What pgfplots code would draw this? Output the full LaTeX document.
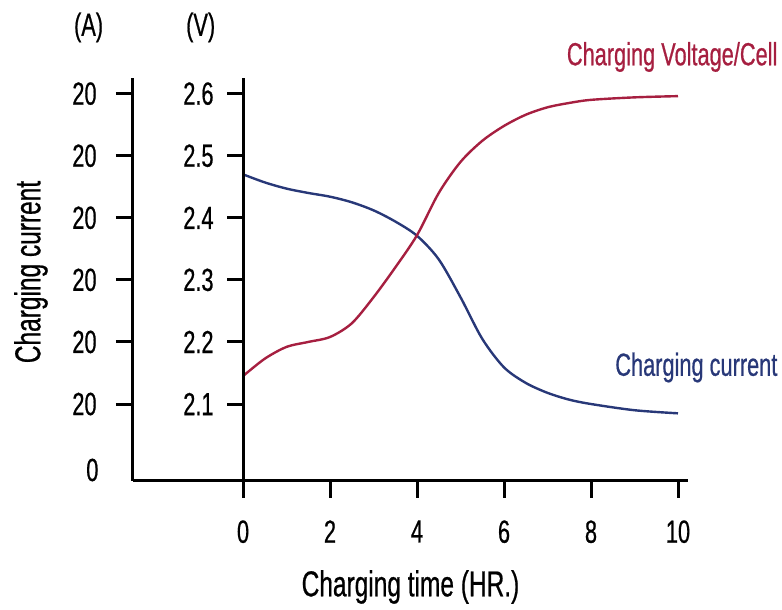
\documentclass[border=0pt]{standalone}
\usepackage{fontspec}
\setmainfont[FakeStretch=0.68,FakeBold=0.6]{Liberation Sans}
\usepackage{pgfplots}
\pgfplotsset{compat=1.18}
\definecolor{voltred}{RGB}{166,31,64}
\definecolor{currblue}{RGB}{40,56,120}

\begin{document}
\begin{tikzpicture}
\useasboundingbox (-66.5pt,-64.5pt) rectangle (324.5pt,240.5pt);
\begin{axis}[
  scale only axis, width=277.5pt, height=201.75pt,
  xmin=-2.53, xmax=10.23, ymin=1.976, ymax=2.626,
  axis x line=bottom, axis y line=left,
  axis line style={line width=1.5pt,-},
  tick style={line width=1.5pt,black},
  tick align=outside, major tick length=8.5pt,
  xtick={0,2,4,6,8,10},
  ytick={2.1,2.2,2.3,2.4,2.5,2.6},
  yticklabels={20,20,20,20,20,20},
  /pgf/number format/assume math mode=true,
  tick label style={font=\fontsize{16}{19}\selectfont},
  xticklabel style={anchor=north,inner sep=0pt,yshift=-11pt},
  yticklabel style={anchor=east,inner sep=0pt,xshift=-9.5pt},
  xlabel={Charging time (HR.)},
  ylabel={Charging current},
  label style={font=\fontsize{18}{21}\selectfont},
  xlabel style={at={(axis description cs:0.5,0)},anchor=center,yshift=-53pt},
  ylabel style={at={(axis description cs:0,0.518)},anchor=center,yshift=51pt},
  clip=false,
]
% charging current (blue)
\addplot[currblue, line width=1.2pt, smooth] coordinates {
  (0,2.470) (0.5,2.457) (1.0,2.447) (1.5,2.440) (2.0,2.434)
  (2.5,2.425) (3.0,2.412) (3.5,2.394) (4.0,2.371) (4.5,2.333)
  (5.0,2.272) (5.5,2.205) (6.0,2.159) (6.5,2.134) (7.0,2.118)
  (7.5,2.107) (8.0,2.100) (9.0,2.090) (10,2.085)
};
% charging voltage per cell (red)
\addplot[voltred, line width=1.2pt, smooth] coordinates {
  (0,2.145) (0.5,2.173) (1.0,2.192) (1.5,2.200) (2.0,2.208)
  (2.5,2.230) (3.0,2.272) (3.5,2.320) (4.0,2.372) (4.5,2.440)
  (5.0,2.490) (5.5,2.524) (6.0,2.548) (6.5,2.566) (7.0,2.578)
  (7.5,2.585) (8.0,2.590) (9.0,2.594) (10,2.596)
};
% voltage axis at t = 0
\draw[line width=1.5pt] (axis cs:0,1.976) -- (axis cs:0,2.626);
\pgfplotsinvokeforeach{2.1,2.2,2.3,2.4,2.5,2.6}{
  \draw[line width=1.5pt] (axis cs:0,#1) -- ++(-8pt,0pt)
    node[anchor=east,inner sep=0pt,xshift=-6pt,font=\fontsize{16}{19}\selectfont]{#1};
}
\end{axis}
\node[font=\fontsize{16}{19}\selectfont,anchor=east,inner sep=0pt] at (-17.1pt,5.5pt) {0};
\node[font=\fontsize{16}{19}\selectfont] at (-22.2pt,226.75pt) {(A)};
\node[font=\fontsize{16}{19}\selectfont] at (33.85pt,226.75pt) {(V)};
\node[font=\fontsize{16}{19}\selectfont,anchor=east,inner sep=0pt,text=voltred] at (322.4pt,212pt) {Charging Voltage/Cell};
\node[font=\fontsize{16}{19}\selectfont,anchor=east,inner sep=0pt,text=currblue] at (322.4pt,56.75pt) {Charging current};
\end{tikzpicture}
\end{document}
